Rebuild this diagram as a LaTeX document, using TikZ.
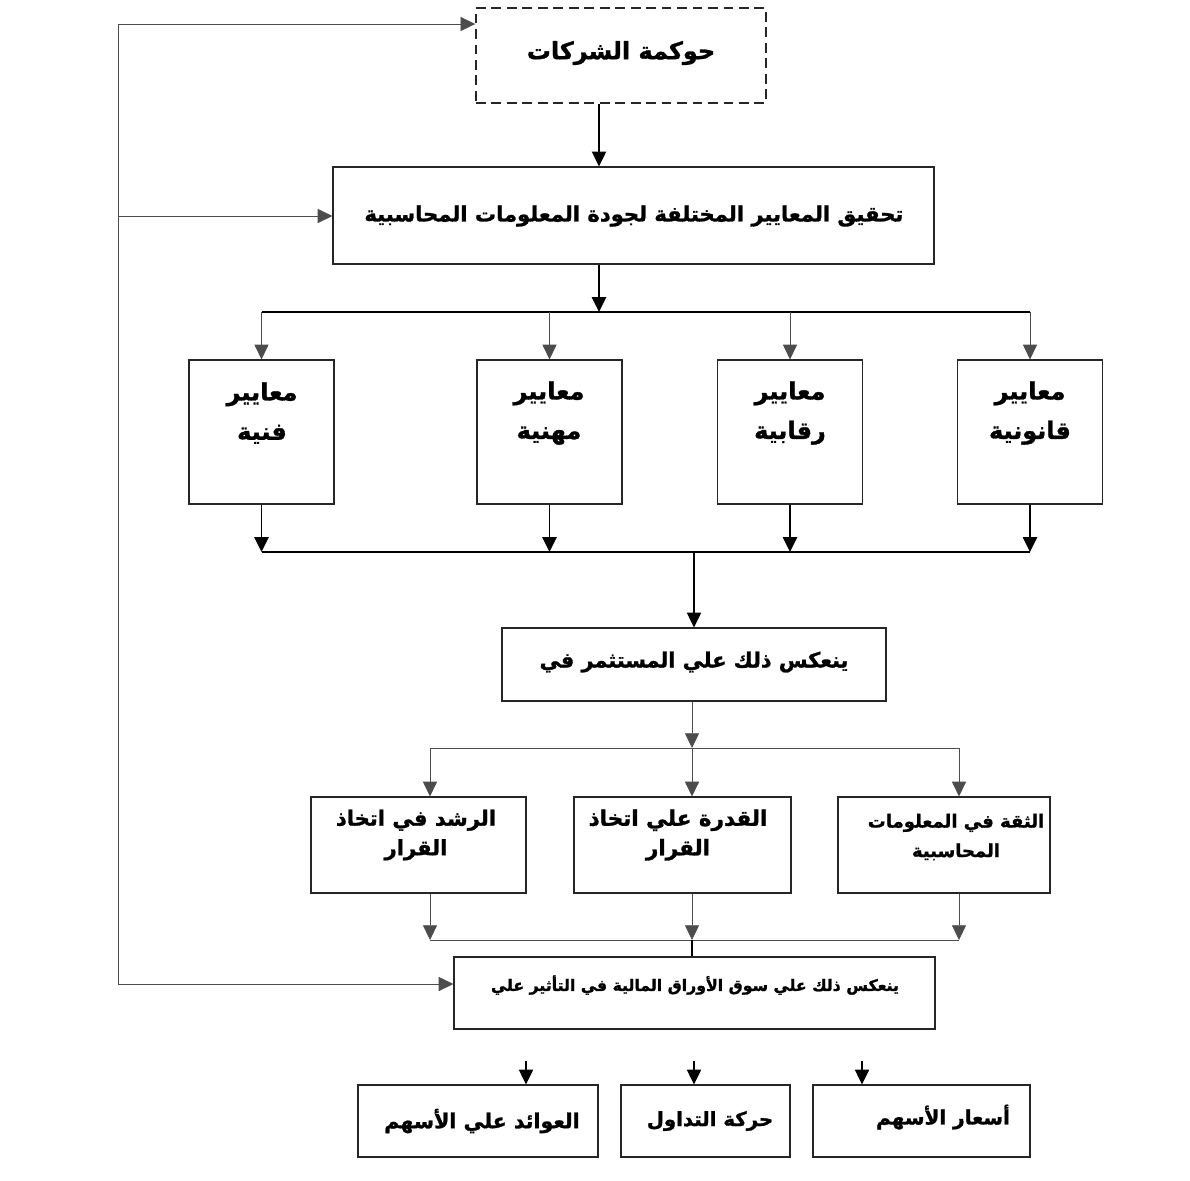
\documentclass[tikz,border=0pt]{standalone}
\usepackage{fontspec}
\newfontfamily\arabicfont[Script=Arabic, BoldFeatures={FakeBold=1.3}]{DejaVu Sans}
\TeXXeTstate=1
\usetikzlibrary{arrows.meta}
\newlength\pxu
\setlength\pxu{0.025cm}
\tikzset{
  box/.style={draw=black!85, line width=0.8pt, inner sep=0pt},
  critbox/.style={box, minimum width=145\pxu, minimum height=144\pxu},
  effbox/.style={box, minimum height=96\pxu},
  outbox/.style={box, minimum height=72\pxu},
  txt/.style={font=\arabicfont\bfseries\fontsize{17}{28}\selectfont, align=center, inner sep=0pt},
  link/.style={draw=black!70, line width=0.6pt},
  flow/.style={link, -{Triangle[length=10.5pt, width=10pt]}},
  heavy/.style={draw=black, line width=1.2pt},
  heavyflow/.style={heavy, -{Triangle[length=10.5pt, width=10pt]}}
}
\begin{document}
\begin{tikzpicture}[x=0.025cm, y=-0.025cm]
  \useasboundingbox (0,0) rectangle (1190,1180);
  % boxes
  \node[box, dashed, dash pattern=on 7pt off 4pt, line width=1pt,
        minimum width=290\pxu, minimum height=95\pxu] (gov) at (621,55.5) {};
  \node[box, minimum width=601\pxu, minimum height=97\pxu] (quality) at (633.5,215.5) {};
  \node[critbox] (fanniya) at (261.5,432) {};
  \node[critbox] (mihaniya) at (549.5,432) {};
  \node[critbox] (raqabiya) at (790,432) {};
  \node[critbox] (qanuniya) at (1030,432) {};
  \node[box, minimum width=384\pxu, minimum height=73\pxu] (investor) at (694,664.5) {};
  \node[effbox, minimum width=215\pxu] (rushd) at (418.5,845) {};
  \node[effbox, minimum width=217\pxu] (qudra) at (682.5,845) {};
  \node[effbox, minimum width=212\pxu] (thiqa) at (944,845) {};
  \node[box, minimum width=481\pxu, minimum height=72\pxu] (market) at (694.5,993) {};
  \node[outbox, minimum width=240\pxu] (awaid) at (478,1121) {};
  \node[outbox, minimum width=169\pxu] (tadawul) at (705.5,1121) {};
  \node[outbox, minimum width=217\pxu] (asar) at (921.5,1121) {};

  % texts
  \node[txt] (gov-t) at (621,53) {\beginR حوكمة الشركات\endR};
  \node[txt, font=\arabicfont\bfseries\fontsize{15}{20}\selectfont] (quality-t) at (634,216)
    {\beginR تحقيق المعايير المختلفة لجودة المعلومات المحاسبية\endR};
  \node[txt] (fanniya-t) at (262,413) {\beginR معايير\endR\\\beginR فنية\endR};
  \node[txt] (mihaniya-t) at (549,413) {\beginR معايير\endR\\\beginR مهنية\endR};
  \node[txt] (raqabiya-t) at (790,413) {\beginR معايير\endR\\\beginR رقابية\endR};
  \node[txt] (qanuniya-t) at (1030,413) {\beginR معايير\endR\\\beginR قانونية\endR};
  \node[txt, font=\arabicfont\bfseries\fontsize{14.8}{20}\selectfont] (investor-t) at (694,662)
    {\beginR ينعكس ذلك علي المستثمر في\endR};
  \node[txt, font=\arabicfont\bfseries\fontsize{15}{21}\selectfont] (rushd-t) at (416,835)
    {\beginR الرشد في اتخاذ\endR\\\beginR القرار\endR};
  \node[txt, font=\arabicfont\bfseries\fontsize{15.3}{21}\selectfont] (qudra-t) at (678,835)
    {\beginR القدرة علي اتخاذ\endR\\\beginR القرار\endR};
  \node[txt, font=\arabicfont\bfseries\fontsize{12.8}{21}\selectfont] (thiqa-t) at (956,837)
    {\beginR الثقة في المعلومات\endR\\\beginR المحاسبية\endR};
  \node[txt, font=\arabicfont\bfseries\fontsize{11.2}{18}\selectfont] (market-t) at (695,985)
    {\beginR ينعكس ذلك علي سوق الأوراق المالية في التأثير علي\endR};
  \node[txt, font=\arabicfont\bfseries\fontsize{14.6}{20}\selectfont] (awaid-t) at (482,1121) {\beginR العوائد علي الأسهم\endR};
  \node[txt, font=\arabicfont\bfseries\fontsize{14}{20}\selectfont] (tadawul-t) at (710,1121) {\beginR حركة التداول\endR};
  \node[txt, font=\arabicfont\bfseries\fontsize{14.2}{20}\selectfont] (asar-t) at (943,1117) {\beginR أسعار الأسهم\endR};

  % left feedback line
  \coordinate (bus-top) at (118,24);
  \coordinate (bus-mid) at (118,216);
  \coordinate (bus-bot) at (118,984);
  \draw[link] (bus-bot) -- (bus-top);
  \draw[flow] (bus-top) -- (bus-top -| gov.west);
  \draw[flow] (bus-mid) -- (bus-mid -| quality.west);
  \draw[flow] (bus-bot) -- (bus-bot -| market.west);

  % governance to criteria
  \coordinate (br1) at (599,312);
  \coordinate (col1) at (694,552);
  \draw[heavyflow] (gov.south -| br1) -- (quality.north -| br1);
  \draw[heavyflow] (quality.south -| br1) -- (br1);
  \draw[heavy, line width=0.8pt] (fanniya.north |- br1) -- (qanuniya.north |- br1);
  \foreach \b in {fanniya, mihaniya, raqabiya, qanuniya} {
    \draw[flow] (\b.north |- br1) -- (\b.north);
    \draw[heavyflow] (\b.south) -- (\b.south |- col1);
  }
  \draw[heavy, line width=0.8pt] (fanniya.south |- col1) -- (qanuniya.south |- col1);
  \draw[heavyflow] (col1) -- (col1 |- investor.north);

  % investor to effects
  \coordinate (br2) at (692,748);
  \coordinate (col2) at (692,940);
  \draw[flow] (br2 |- investor.south) -- (br2);
  \draw[link] (430,748) coordinate (d1) -- (959,748) coordinate (d3);
  \coordinate (d2) at (692,748);
  \foreach \d/\b in {d1/rushd, d2/qudra, d3/thiqa} {
    \draw[flow] (\d) -- (\d |- \b.north);
    \draw[flow] (\d |- \b.south) -- (\d |- col2);
  }
  \draw[link] (d1 |- col2) -- (d3 |- col2);
  \draw[heavy] (col2) -- (col2 |- market.north);

  % market outcomes
  \foreach \x/\b in {526/awaid, 694/tadawul, 862/asar} {
    \coordinate (s-\b) at (\x,1061);
    \draw[heavyflow] (s-\b) -- (s-\b |- \b.north);
  }
\end{tikzpicture}
\end{document}
